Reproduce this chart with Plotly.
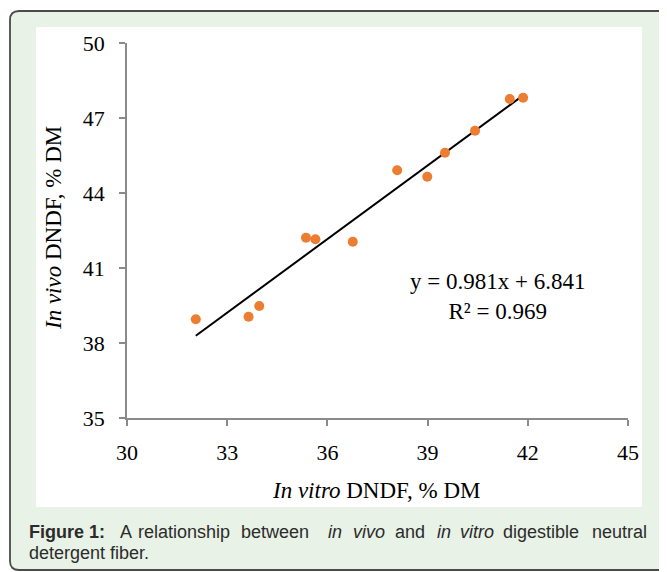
import plotly.graph_objects as go

# ---- data ----
x_vitro = [32.06, 33.64, 33.96, 35.36, 35.64, 36.76, 38.09, 38.99, 39.52, 40.42, 41.46, 41.86]
y_vivo = [38.95, 39.05, 39.48, 42.21, 42.15, 42.05, 44.91, 44.65, 45.61, 46.49, 47.76, 47.81]
slope, intercept, r2 = 0.981, 6.841, 0.969
x_ticks = [30, 33, 36, 39, 42, 45]
y_ticks = [35, 38, 41, 44, 47, 50]

caption_words = [  # (text, left pixel)
    ("<b>Figure 1:</b>", 28), ("A", 119), ("relationship", 137), ("between", 240),
    ("<i>in</i>", 327), ("<i>vivo</i>", 352), ("and", 394), ("<i>in</i>", 436),
    ("<i>vitro</i>", 459), ("digestible", 502), ("neutral", 591),
]
caption_line2 = "detergent fiber."

# ---- layout geometry (pixels, page coordinates) ----
OFF = 8                      # default body margin of the html page
WID, HEI = 667 - OFF, 572 - OFF
L, T, W, H = 127, 43, 501, 375


def px(x):
    return (x - L) / W


def py(y):
    return (T + H - y) / H


x_fit = [min(x_vitro), max(x_vitro)]
y_fit = [slope * v + intercept for v in x_fit]

fig = go.Figure()
fig.add_trace(go.Scatter(x=x_fit, y=y_fit, mode="lines",
                         line=dict(color="black", width=2), hoverinfo="skip"))
fig.add_trace(go.Scatter(x=x_vitro, y=y_vivo, mode="markers",
                         marker=dict(color="#ED7D31", size=10, line=dict(width=0))))

serif = "Liberation Serif, Times New Roman, serif"
sans = "Liberation Sans, Arial, sans-serif"

axis_common = dict(showgrid=False, zeroline=False, showline=True, linecolor="#8a8a8a",
                   linewidth=1.5, ticks="outside", ticklen=6, tickwidth=1.5,
                   tickcolor="#8a8a8a", tickfont=dict(family=serif, size=22, color="black"),
                   automargin=False)

fig.update_xaxes(range=[30, 45], tickvals=x_ticks, ticktext=[str(v) for v in x_ticks],
                 ticklabelstandoff=8, **axis_common)
fig.update_yaxes(range=[35, 50], tickvals=y_ticks, ticktext=[str(v) for v in y_ticks],
                 ticklabelstandoff=10, **axis_common)

# rounded, green-filled border (pixels -> paper)
bx0, by0, bx1, by1, r = 10, 11, 700, 570, 9
path = (f"M {px(bx0 + r)},{py(by0)} L {px(bx1)},{py(by0)} L {px(bx1)},{py(by1)} "
        f"L {px(bx0 + r)},{py(by1)} Q {px(bx0)},{py(by1)} {px(bx0)},{py(by1 - r)} "
        f"L {px(bx0)},{py(by0 + r)} Q {px(bx0)},{py(by0)} {px(bx0 + r)},{py(by0)} Z")

shapes = [
    dict(type="path", xref="paper", yref="paper", path=path, fillcolor="#e8f2e6",
         line=dict(color="#4a4a4a", width=1.8), layer="below"),
    dict(type="rect", xref="paper", yref="paper", x0=px(36), x1=px(642), y0=py(507), y1=py(27),
         fillcolor="white", line=dict(width=0), layer="below"),
]

annotations = [
    dict(text="<i>In vivo</i> DNDF, % DM", x=px(54), y=py(228), textangle=-90,
         font=dict(family=serif, size=23, color="black")),
    dict(text="<i>In vitro</i> DNDF, % DM", x=px(376), y=py(490),
         font=dict(family=serif, size=23, color="black")),
    dict(text=f"y = {slope}x + {intercept}<br>R² = {r2}", x=px(497), y=py(296),
         align="center", font=dict(family=serif, size=23, color="black")),
    dict(text=caption_line2, x=px(28), y=py(553), xanchor="left",
         font=dict(family=sans, size=18, color="#2b2b2b")),
]
for txt, left in caption_words:
    annotations.append(dict(text=txt, x=px(left), y=py(532), xanchor="left",
                            font=dict(family=sans, size=18, color="#2b2b2b")))
for a in annotations:
    a.setdefault("xanchor", "center")
    a.update(xref="paper", yref="paper", showarrow=False, yanchor="middle", borderpad=0)

fig.update_layout(
    width=WID, height=HEI,
    margin=dict(l=L - OFF, r=WID - (L - OFF) - W, t=T - OFF, b=HEI - (T - OFF) - H, pad=0),
    paper_bgcolor="white", plot_bgcolor="rgba(0,0,0,0)",
    showlegend=False, shapes=shapes, annotations=annotations,
)

fig.write_html("out.html")
